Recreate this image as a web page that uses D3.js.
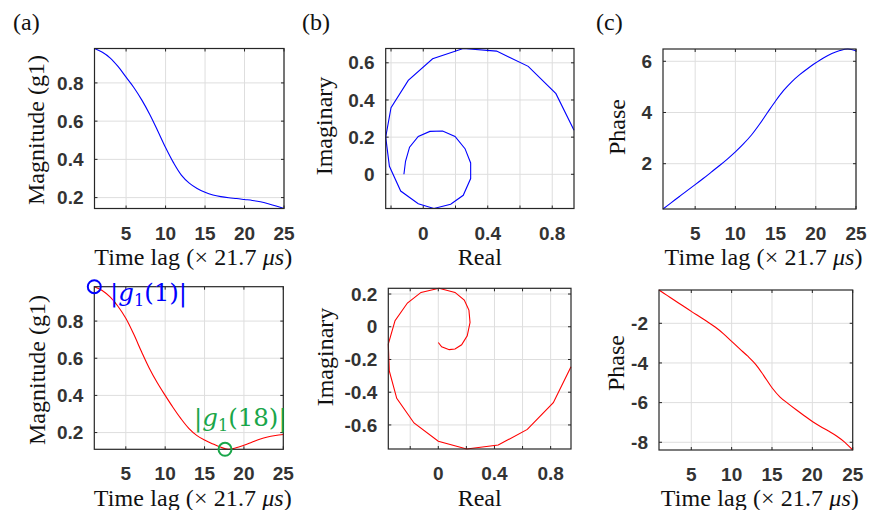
<!DOCTYPE html>
<html>
<head>
<meta charset="utf-8">
<script src="https://cdn.jsdelivr.net/npm/d3@7"></script>
<style>
  body { margin: 0; background: #fff; }
  svg { display: block; }
  .tick-label { font-family: "Liberation Sans", Arial, sans-serif; font-size: 19px; font-weight: bold; fill: #333; }
  .axis-label { font-family: "Liberation Serif", "Times New Roman", serif; font-size: 24px; fill: #111; }
  .annot { font-family: "DejaVu Serif", serif; font-size: 24.5px; }
</style>
</head>
<body>
<svg id="chart" width="869" height="510"></svg>
<script>
// time lags (x 21.7 us)
const lags = [1, 2, 3, 4, 5, 6, 7, 8, 9, 10, 11, 12, 13, 14, 15, 16, 17, 18, 19, 20, 21, 22, 23, 24, 25];

// top row (blue)
const magTop = [0.98, 0.96, 0.93, 0.885, 0.83, 0.775, 0.71, 0.635, 0.55, 0.462, 0.383, 0.318, 0.276, 0.248, 0.228,
                0.214, 0.205, 0.199, 0.195, 0.19, 0.185, 0.178, 0.168, 0.156, 0.143];
const phaseTop = [0.23, 0.47, 0.71, 0.95, 1.18, 1.42, 1.67, 1.92, 2.18, 2.46, 2.77, 3.12, 3.54, 4.0, 4.45,
                  4.86, 5.2, 5.48, 5.72, 5.94, 6.14, 6.3, 6.42, 6.48, 6.41];
const realTop = [-0.12, -0.11, -0.085, -0.031, 0.041, 0.12, 0.197, 0.259, 0.294, 0.294, 0.248, 0.17, 0.066,
                 -0.031, -0.14, -0.21, -0.233, -0.2, -0.093, 0.058, 0.248, 0.455, 0.651, 0.823, 0.935];
const imagTop = [0, 0.07, 0.146, 0.204, 0.231, 0.233, 0.204, 0.138, 0.061, -0.023, -0.113, -0.161, -0.184,
                 -0.158, -0.09, 0.043, 0.2, 0.359, 0.505, 0.622, 0.677, 0.663, 0.581, 0.434, 0.237];

// bottom row (red)
const magBottom = [0.985, 0.965, 0.93, 0.88, 0.815, 0.73, 0.635, 0.545, 0.468, 0.4, 0.335, 0.275, 0.223, 0.185, 0.16,
                   0.14, 0.122, 0.11, 0.118, 0.132, 0.148, 0.164, 0.176, 0.184, 0.19];
const phaseBottom = [-0.32, -0.59, -0.86, -1.13, -1.4, -1.66, -1.92, -2.2, -2.53, -2.91, -3.29, -3.66, -4.08,
                     -4.65, -5.25, -5.72, -6.05, -6.36, -6.66, -6.95, -7.2, -7.43, -7.68, -7.99, -8.39];
const realBottom = [0, 0.024, 0.078, 0.119, 0.166, 0.206, 0.226, 0.218, 0.185, 0.119, 0.005, -0.123, -0.22,
                    -0.308, -0.356, -0.349, -0.296, -0.173, 0, 0.202, 0.427, 0.634, 0.819, 0.945];
const imagBottom = [-0.096, -0.122, -0.14, -0.136, -0.11, -0.055, 0.026, 0.102, 0.163, 0.21, 0.235, 0.21, 0.145,
                    0.037, -0.106, -0.27, -0.437, -0.588, -0.7, -0.747, -0.723, -0.627, -0.464, -0.244];

// ticks
const lagTicks = [5, 10, 15, 20, 25];
const realGrid = [-0.2, 0, 0.2, 0.4, 0.6, 0.8];
const realLabels = [0, 0.4, 0.8];
const magTicks = [0.2, 0.4, 0.6, 0.8];
const imagTopTicks = [0, 0.2, 0.4, 0.6];
const imagBottomTicks = [-0.6, -0.4, -0.2, 0, 0.2];
const phaseTopTicks = [2, 4, 6];
const phaseBottomTicks = [-8, -6, -4, -2];

// markers on bottom magnitude
const markLags = [1, 17.6];
const markMags = [0.985, 0.11];
const markText = ["1", "18"];

const timeLabel = "Time lag (× 21.7 ";

const svg = d3.select("#chart");
const blue = "#0000ff", red = "#ff0000", green = "#19a64a";

function panel(cfg) {
    const g = svg.append("g");
    const x = d3.scaleLinear().domain(d3.extent(cfg.xs)).range([cfg.left, cfg.right]);
    const y = d3.scaleLinear().domain(d3.extent(cfg.ys)).range([cfg.bottom, cfg.top]);

    // grid
    g.selectAll(".gx").data(cfg.xGrid).enter().append("line")
        .attr("x1", d => x(d)).attr("x2", d => x(d))
        .attr("y1", cfg.top).attr("y2", cfg.bottom)
        .attr("stroke", "#dedede").attr("stroke-width", 1);
    g.selectAll(".gy").data(cfg.yTicks).enter().append("line")
        .attr("x1", cfg.left).attr("x2", cfg.right)
        .attr("y1", d => y(d)).attr("y2", d => y(d))
        .attr("stroke", "#dedede").attr("stroke-width", 1);

    // tick marks on all four sides
    const tl = 3;
    cfg.xGrid.forEach(d => {
        g.append("line").attr("x1", x(d)).attr("x2", x(d)).attr("y1", cfg.bottom).attr("y2", cfg.bottom - tl).attr("stroke", "#262626");
        g.append("line").attr("x1", x(d)).attr("x2", x(d)).attr("y1", cfg.top).attr("y2", cfg.top + tl).attr("stroke", "#262626");
    });
    cfg.yTicks.forEach(d => {
        g.append("line").attr("x1", cfg.left).attr("x2", cfg.left + tl).attr("y1", y(d)).attr("y2", y(d)).attr("stroke", "#262626");
        g.append("line").attr("x1", cfg.right).attr("x2", cfg.right - tl).attr("y1", y(d)).attr("y2", y(d)).attr("stroke", "#262626");
    });

    // data line
    const pts = cfg.xs.map((v, i) => [v, cfg.ys[i]]);
    const line = d3.line().x(d => x(d[0])).y(d => y(d[1]))
        .curve(cfg.smooth ? d3.curveCatmullRom.alpha(0.5) : d3.curveLinear);
    g.append("path").datum(pts).attr("d", line)
        .attr("fill", "none").attr("stroke", cfg.color).attr("stroke-width", 1.1);

    // box
    g.append("rect").attr("x", cfg.left).attr("y", cfg.top)
        .attr("width", cfg.right - cfg.left).attr("height", cfg.bottom - cfg.top)
        .attr("fill", "none").attr("stroke", "#262626").attr("stroke-width", 1.2);

    // tick labels
    g.selectAll(".xl").data(cfg.xLabels).enter().append("text")
        .attr("class", "tick-label").attr("text-anchor", "middle")
        .attr("x", d => x(d)).attr("y", cfg.bottom + 31)
        .text(d => String(d));
    g.selectAll(".yl").data(cfg.yTicks).enter().append("text")
        .attr("class", "tick-label").attr("text-anchor", "end")
        .attr("x", cfg.left - 11).attr("y", d => y(d)).attr("dy", "0.35em")
        .text(d => String(d));

    // axis labels
    const xl = g.append("text").attr("class", "axis-label").attr("text-anchor", "middle")
        .attr("x", (cfg.left + cfg.right) / 2 + cfg.xLabelDx).attr("y", cfg.bottom + cfg.xLabelDy);
    if (cfg.xTitle === "time") {
        xl.attr("textLength", 198).attr("lengthAdjust", "spacing");
        xl.append("tspan").text(timeLabel);
        xl.append("tspan").attr("font-style", "italic").text("μs");
        xl.append("tspan").text(")");
    } else {
        xl.text(cfg.xTitle);
    }
    g.append("text").attr("class", "axis-label").attr("text-anchor", "middle")
        .attr("transform", `translate(${cfg.yLabelX},${cfg.yLabelY}) rotate(-90)`)
        .text(cfg.yTitle);

    return { x, y, g };
}

// panel letters
[["(a)", 13], ["(b)", 302], ["(c)", 596]].forEach(([t, px]) => {
    svg.append("text").attr("class", "axis-label").attr("x", px).attr("y", 30).text(t);
});

// top row
panel({ left: 94.5, right: 284, top: 48.5, bottom: 208.5, xs: lags, ys: magTop, color: blue, smooth: true,
        xGrid: lagTicks, xLabels: lagTicks, yTicks: magTicks, xTitle: "time", xLabelDx: 4, xLabelDy: 56,
        yTitle: "Magnitude (g1)", yLabelX: 43.5, yLabelY: 130 });
panel({ left: 385.7, right: 574, top: 48.5, bottom: 208.5, xs: realTop, ys: imagTop, color: blue, smooth: false,
        xGrid: realGrid, xLabels: realLabels, yTicks: imagTopTicks, xTitle: "Real", xLabelDx: 0, xLabelDy: 56,
        yTitle: "Imaginary", yLabelX: 331.5, yLabelY: 126 });
panel({ left: 663, right: 856, top: 49, bottom: 209, xs: lags, ys: phaseTop, color: blue, smooth: true,
        xGrid: lagTicks, xLabels: lagTicks, yTicks: phaseTopTicks, xTitle: "time", xLabelDx: 4, xLabelDy: 56,
        yTitle: "Phase", yLabelX: 625, yLabelY: 127 });

// bottom row
const pa = panel({ left: 94.3, right: 283.3, top: 286.7, bottom: 449.3, xs: lags, ys: magBottom, color: red, smooth: true,
        xGrid: lagTicks, xLabels: lagTicks, yTicks: magTicks, xTitle: "time", xLabelDx: 4, xLabelDy: 56.5,
        yTitle: "Magnitude (g1)", yLabelX: 44.5, yLabelY: 370 });
panel({ left: 388.3, right: 571, top: 288.3, bottom: 449, xs: realBottom, ys: imagBottom, color: red, smooth: false,
        xGrid: realGrid, xLabels: realLabels, yTicks: imagBottomTicks, xTitle: "Real", xLabelDx: 0, xLabelDy: 56.5,
        yTitle: "Imaginary", yLabelX: 333.3, yLabelY: 357 });
panel({ left: 659, right: 852.7, top: 290, bottom: 450, xs: lags, ys: phaseBottom, color: red, smooth: true,
        xGrid: lagTicks, xLabels: lagTicks, yTicks: phaseBottomTicks, xTitle: "time", xLabelDx: 4, xLabelDy: 56,
        yTitle: "Phase", yLabelX: 623.5, yLabelY: 363 });

// markers + annotations
const markColors = [blue, green];
markLags.forEach((l, i) => {
    pa.g.append("circle").attr("cx", pa.x(l)).attr("cy", pa.y(markMags[i])).attr("r", 6.5)
        .attr("fill", "none").attr("stroke", markColors[i]).attr("stroke-width", 2);
});
function annot(xp, yp, color, arg) {
    const t = svg.append("text").attr("class", "annot").attr("x", xp).attr("y", yp).attr("fill", color);
    t.append("tspan").text("|");
    t.append("tspan").attr("font-style", "italic").text("g");
    t.append("tspan").attr("font-size", "16px").attr("dy", 5).text("1");
    t.append("tspan").attr("dy", -5).text("(" + arg + ")|");
}
annot(110, 301, blue, markText[0]);
annot(194, 426, green, markText[1]);
</script>
</body>
</html>
